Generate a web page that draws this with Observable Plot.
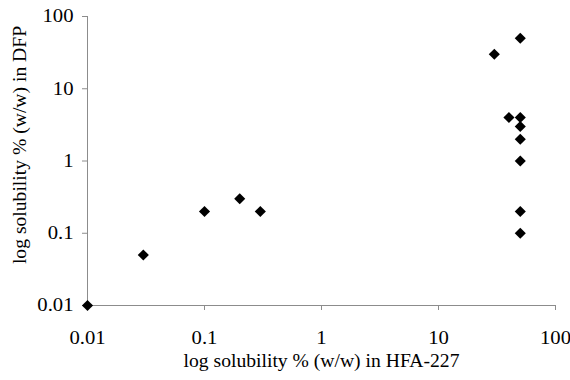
<!DOCTYPE html>
<html>
<head>
<meta charset="utf-8">
<script src="https://cdn.jsdelivr.net/npm/d3@7"></script>
<script src="https://cdn.jsdelivr.net/npm/@observablehq/plot@0.6"></script>
<style>
  html, body { margin: 0; padding: 0; background: #fff; }
  #chart { width: 570px; height: 380px; }
</style>
</head>
<body>
<div id="chart"></div>
<script>
// Solubility in HFA-227 (x) vs solubility in DFP (y), % w/w
const hfa = [0.01, 0.03, 0.1, 0.2, 0.3, 30, 40, 50, 50, 50, 50, 50, 50, 50];
const dfp = [0.01, 0.05, 0.2, 0.3, 0.2, 30, 4, 50, 4, 3, 2, 1, 0.2, 0.1];
const tickValues = [0.01, 0.1, 1, 10, 100];
const tickLabels = ["0.01", "0.1", "1", "10", "100"];
const xTitle = "log solubility % (w/w) in HFA-227";
const yTitle = "log solubility % (w/w) in DFP";

const data = hfa.map((x, i) => ({x, y: dfp[i]}));
const fmt = d => tickLabels[tickValues.indexOf(d)] ?? "";

const chart = Plot.plot({
  width: 570,
  height: 380,
  marginLeft: 87,
  marginRight: 15,
  marginTop: 16,
  marginBottom: 75,
  style: {fontFamily: "'Liberation Serif', 'Times New Roman', serif", background: "#fff", color: "#000"},
  x: {type: "log", domain: [0.01, 100], range: [87, 555]},
  y: {type: "log", domain: [0.01, 100], range: [305, 16]},
  marks: [
    Plot.ruleX([0.01], {stroke: "#8c8c8c", strokeWidth: 1}),
    Plot.ruleY([0.01], {stroke: "#8c8c8c", strokeWidth: 1}),
    Plot.axisX({ticks: tickValues, tickFormat: fmt, tickSize: 5, tickPadding: 21, stroke: "#8c8c8c", fill: "#000", fontSize: 18, label: null}),
    Plot.axisY({ticks: tickValues, tickFormat: fmt, tickSize: 5, tickPadding: 9, stroke: "#8c8c8c", fill: "#000", fontSize: 18, label: null}),
    Plot.text([xTitle], {frameAnchor: "bottom", dy: 61, fontSize: 18, fill: "#000", text: d => d}),
    Plot.text([yTitle], {frameAnchor: "left", textAnchor: "middle", dx: -67, dy: -16, rotate: -90, fontSize: 18, fill: "#000", text: d => d}),
    Plot.dot(data, {x: "x", y: "y", symbol: "diamond2", r: 5, fill: "#000", stroke: "none"})
  ]
});
document.getElementById("chart").appendChild(chart);

// The reference typeface is slightly wider than Liberation Serif: stretch glyphs horizontally.
function stretch(selector, k) {
  chart.querySelectorAll(selector).forEach(t => {
    const len = t.getComputedTextLength();
    if (len > 0) {
      t.setAttribute("textLength", (len * k).toFixed(2));
      t.setAttribute("lengthAdjust", "spacingAndGlyphs");
    }
  });
}
stretch('g[aria-label$="tick label"] text', 1.15);
stretch('g[aria-label="text"] text', 1.09);
</script>
</body>
</html>
